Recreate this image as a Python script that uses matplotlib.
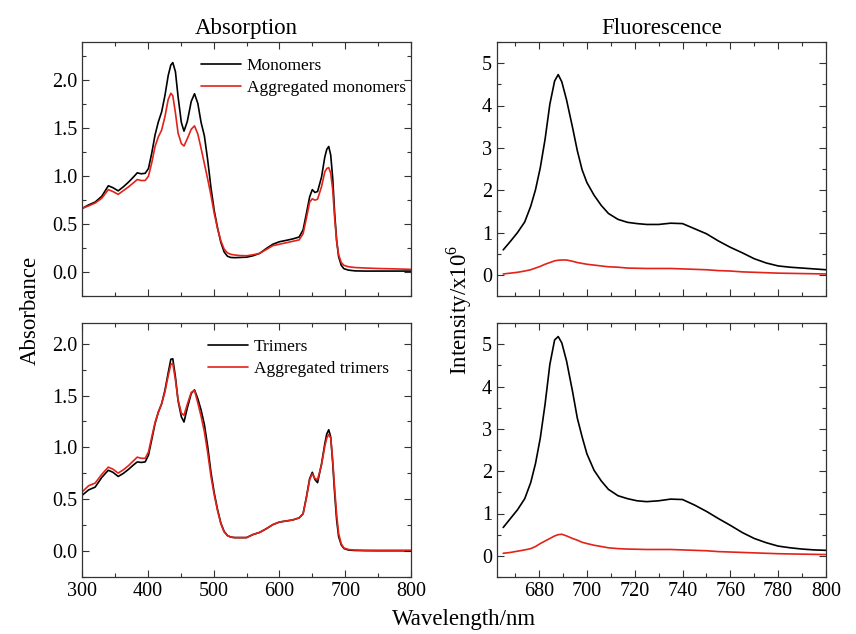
import matplotlib
matplotlib.use("Agg")
import matplotlib.pyplot as plt
from matplotlib.ticker import MultipleLocator

plt.rcParams['font.family'] = ['Liberation Serif', 'DejaVu Serif']
plt.rcParams['mathtext.fontset'] = 'custom'
plt.rcParams['mathtext.rm'] = 'Liberation Serif'

# ---------------- data ----------------
wl_abs = [300, 310, 320, 330, 340, 347, 355, 363, 371, 378, 384, 390, 396, 401, 406,
          411, 416, 421, 426, 431, 435, 438, 442, 446, 451, 455, 460, 466, 471, 476,
          481, 486, 491, 496, 501, 506, 511, 516, 521, 526, 532, 540, 550, 560, 570,
          580, 590, 600, 610, 620, 630, 636, 641, 646, 650, 654, 658, 664, 669, 672,
          675, 678, 681, 684, 687, 690, 694, 698, 705, 715, 730, 750, 775, 800]

monomers = [0.663, 0.70, 0.73, 0.79, 0.90, 0.88, 0.847, 0.89, 0.94, 0.99, 1.035, 1.025,
            1.03, 1.08, 1.24, 1.43, 1.566, 1.67, 1.84, 2.05, 2.16, 2.185, 2.09, 1.83,
            1.56, 1.47, 1.57, 1.78, 1.86, 1.76, 1.56, 1.42, 1.17, 0.88, 0.64, 0.46,
            0.31, 0.21, 0.165, 0.152, 0.15, 0.152, 0.155, 0.17, 0.195, 0.245, 0.29,
            0.316, 0.33, 0.345, 0.365, 0.44, 0.61, 0.785, 0.86, 0.83, 0.84, 0.99, 1.20,
            1.28, 1.31, 1.22, 0.98, 0.61, 0.33, 0.16, 0.07, 0.035, 0.02, 0.012, 0.01,
            0.01, 0.01, 0.01]
agg_monomers = [0.663, 0.69, 0.72, 0.77, 0.86, 0.84, 0.81, 0.85, 0.89, 0.93, 0.965,
                0.955, 0.955, 1.0, 1.14, 1.31, 1.41, 1.48, 1.62, 1.80, 1.865, 1.84, 1.66,
                1.45, 1.34, 1.315, 1.39, 1.49, 1.525, 1.44, 1.29, 1.13, 0.97, 0.80, 0.61,
                0.455, 0.325, 0.24, 0.20, 0.185, 0.178, 0.172, 0.17, 0.18, 0.195, 0.235,
                0.275, 0.29, 0.305, 0.32, 0.335, 0.40, 0.56, 0.73, 0.764, 0.75, 0.76,
                0.89, 1.045, 1.08, 1.09, 1.03, 0.86, 0.56, 0.32, 0.18, 0.10, 0.07, 0.055,
                0.047, 0.042, 0.037, 0.033, 0.028]
trimers = [0.537, 0.59, 0.617, 0.71, 0.78, 0.76, 0.72, 0.75, 0.79, 0.83, 0.86, 0.855,
           0.86, 0.925, 1.075, 1.23, 1.34, 1.42, 1.55, 1.72, 1.85, 1.855, 1.68, 1.45,
           1.295, 1.245, 1.38, 1.52, 1.555, 1.47, 1.36, 1.22, 1.01, 0.76, 0.56, 0.40,
           0.27, 0.19, 0.15, 0.135, 0.13, 0.13, 0.13, 0.16, 0.18, 0.215, 0.255, 0.28,
           0.29, 0.30, 0.32, 0.36, 0.52, 0.70, 0.76, 0.69, 0.66, 0.84, 1.035, 1.13,
           1.17, 1.10, 0.85, 0.553, 0.30, 0.14, 0.06, 0.025, 0.01, 0.006, 0.004, 0.003,
           0.003, 0.003]
agg_trimers = [0.57, 0.63, 0.656, 0.74, 0.81, 0.79, 0.752, 0.785, 0.826, 0.87, 0.906,
               0.895, 0.895, 0.955, 1.10, 1.24, 1.34, 1.42, 1.535, 1.69, 1.80, 1.81,
               1.65, 1.46, 1.33, 1.31, 1.415, 1.53, 1.55, 1.43, 1.30, 1.15, 0.95, 0.72,
               0.54, 0.39, 0.265, 0.185, 0.15, 0.135, 0.13, 0.13, 0.13, 0.16, 0.18,
               0.215, 0.255, 0.28, 0.29, 0.30, 0.32, 0.36, 0.51, 0.69, 0.745, 0.70, 0.69,
               0.83, 1.01, 1.09, 1.125, 1.09, 0.88, 0.60, 0.35, 0.17, 0.07, 0.03, 0.015,
               0.01, 0.008, 0.008, 0.008, 0.008]

wl_fl = [665, 668, 671, 674, 676.5, 678.5, 680.5, 682.5, 684.5, 686.5, 688, 689.5,
         691.5, 694, 696, 698, 700, 703, 706, 709, 713, 717, 721, 725, 730, 735, 740,
         745, 750, 755, 760, 765, 770, 775, 780, 785, 790, 795, 800]
fl_monomers = [0.59, 0.79, 1.0, 1.25, 1.62, 2.01, 2.53, 3.2, 4.03, 4.58, 4.73, 4.56, 4.13,
               3.48, 2.93, 2.48, 2.18, 1.88, 1.64, 1.45, 1.31, 1.24, 1.21, 1.19, 1.19,
               1.22, 1.21, 1.09, 0.97, 0.80, 0.65, 0.52, 0.38, 0.28, 0.21, 0.18, 0.16,
               0.14, 0.12]
fl_agg_monomers = [0.02, 0.04, 0.06, 0.09, 0.12, 0.16, 0.2, 0.25, 0.29, 0.33, 0.345,
                   0.35, 0.35, 0.32, 0.29, 0.27, 0.25, 0.23, 0.21, 0.19, 0.18, 0.16,
                   0.155, 0.15, 0.15, 0.15, 0.14, 0.13, 0.12, 0.10, 0.09, 0.07, 0.06,
                   0.05, 0.04, 0.035, 0.03, 0.025, 0.02]
fl_trimers = [0.67, 0.88, 1.09, 1.35, 1.73, 2.18, 2.78, 3.58, 4.52, 5.1, 5.18, 5.03, 4.6,
              3.88, 3.25, 2.81, 2.41, 2.02, 1.77, 1.57, 1.42, 1.35, 1.30, 1.28, 1.30,
              1.34, 1.33, 1.2, 1.05, 0.88, 0.72, 0.55, 0.41, 0.31, 0.23, 0.19, 0.16,
              0.14, 0.13]
fl_agg_trimers = [0.06, 0.08, 0.11, 0.14, 0.17, 0.22, 0.29, 0.35, 0.41, 0.47, 0.50, 0.51,
                  0.47, 0.41, 0.37, 0.32, 0.29, 0.25, 0.22, 0.19, 0.17, 0.16, 0.155,
                  0.15, 0.15, 0.15, 0.14, 0.13, 0.12, 0.10, 0.09, 0.08, 0.07, 0.06, 0.05,
                  0.045, 0.04, 0.035, 0.03]

labels_top = ["Monomers", "Aggregated monomers"]
labels_bottom = ["Trimers", "Aggregated trimers"]

BLACK = "#000000"
RED = "#e32219"

# ---------------- figure ----------------
W, H = 856, 634
fig = plt.figure(figsize=(W / 100, H / 100), dpi=100)


def px_axes(x0, y0, x1, y1):
    return fig.add_axes([x0 / W, 1 - y1 / H, (x1 - x0) / W, (y1 - y0) / H])


ax_a1 = px_axes(82, 42, 411, 296)
ax_a2 = px_axes(82, 323, 411, 577)
ax_f1 = px_axes(497, 42, 826, 296)
ax_f2 = px_axes(497, 323, 826, 577)

lw = 1.2
pkw = dict(lw=lw, solid_joinstyle='round', solid_capstyle='round')
ax_a1.plot(wl_abs, monomers, color=BLACK, label=labels_top[0], **pkw)
ax_a1.plot(wl_abs, agg_monomers, color=RED, label=labels_top[1], **pkw)
ax_a2.plot(wl_abs, trimers, color=BLACK, label=labels_bottom[0], **pkw)
ax_a2.plot(wl_abs, agg_trimers, color=RED, label=labels_bottom[1], **pkw)
ax_f1.plot(wl_fl, fl_monomers, color=BLACK, **pkw)
ax_f1.plot(wl_fl, fl_agg_monomers, color=RED, **pkw)
ax_f2.plot(wl_fl, fl_trimers, color=BLACK, **pkw)
ax_f2.plot(wl_fl, fl_agg_trimers, color=RED, **pkw)

ax_a1.set_ylim(-0.25, 2.4)
ax_a2.set_ylim(-0.25, 2.2)
for ax in (ax_a1, ax_a2):
    ax.set_xlim(300, 800)
    ax.xaxis.set_major_locator(MultipleLocator(100))
    ax.xaxis.set_minor_locator(MultipleLocator(50))
    ax.yaxis.set_major_locator(MultipleLocator(0.5))
    ax.yaxis.set_minor_locator(MultipleLocator(0.25))
    ax.yaxis.set_major_formatter(plt.FuncFormatter(lambda v, p: f"{v:.1f}"))
for ax in (ax_f1, ax_f2):
    ax.set_xlim(662.4, 800)
    ax.set_ylim(-0.5, 5.5)
    ax.xaxis.set_major_locator(MultipleLocator(20))
    ax.xaxis.set_minor_locator(MultipleLocator(10))
    ax.yaxis.set_major_locator(MultipleLocator(1))
    ax.yaxis.set_minor_locator(MultipleLocator(0.5))

for ax in (ax_a1, ax_a2, ax_f1, ax_f2):
    ax.tick_params(which='both', direction='in', top=True, right=True,
                   labelsize=14.5, width=0.8, color='#333333')
    ax.tick_params(which='major', length=5)
    ax.tick_params(which='minor', length=3)
    for s in ax.spines.values():
        s.set_linewidth(0.9)
        s.set_color('#333333')

ax_a1.tick_params(labelbottom=False)
ax_f1.tick_params(labelbottom=False)

ax_a1.set_title("Absorption", fontsize=16.5, pad=6)
ax_f1.set_title("Fluorescence", fontsize=16.5, pad=6)

leg_kw = dict(frameon=False, fontsize=12.5, handlelength=2.3, handletextpad=0.35,
              labelspacing=0.35, loc='upper left', borderaxespad=0.0)
ax_a1.legend(bbox_to_anchor=(0.34, 0.965), **leg_kw)
ax_a2.legend(bbox_to_anchor=(0.361, 0.965), **leg_kw)

fig.text(30 / W, 1 - 310 / H, "Absorbance", rotation=90, ha='center', va='center',
         fontsize=16.5)
fig.text(459 / W, 1 - 310 / H, "Intensity/x10$^6$", rotation=90, ha='center',
         va='center', fontsize=16.5)
fig.text(464 / W, 1 - 620 / H, "Wavelength/nm", ha='center', va='center',
         fontsize=16.5)

fig.savefig("out.png", dpi=100)
